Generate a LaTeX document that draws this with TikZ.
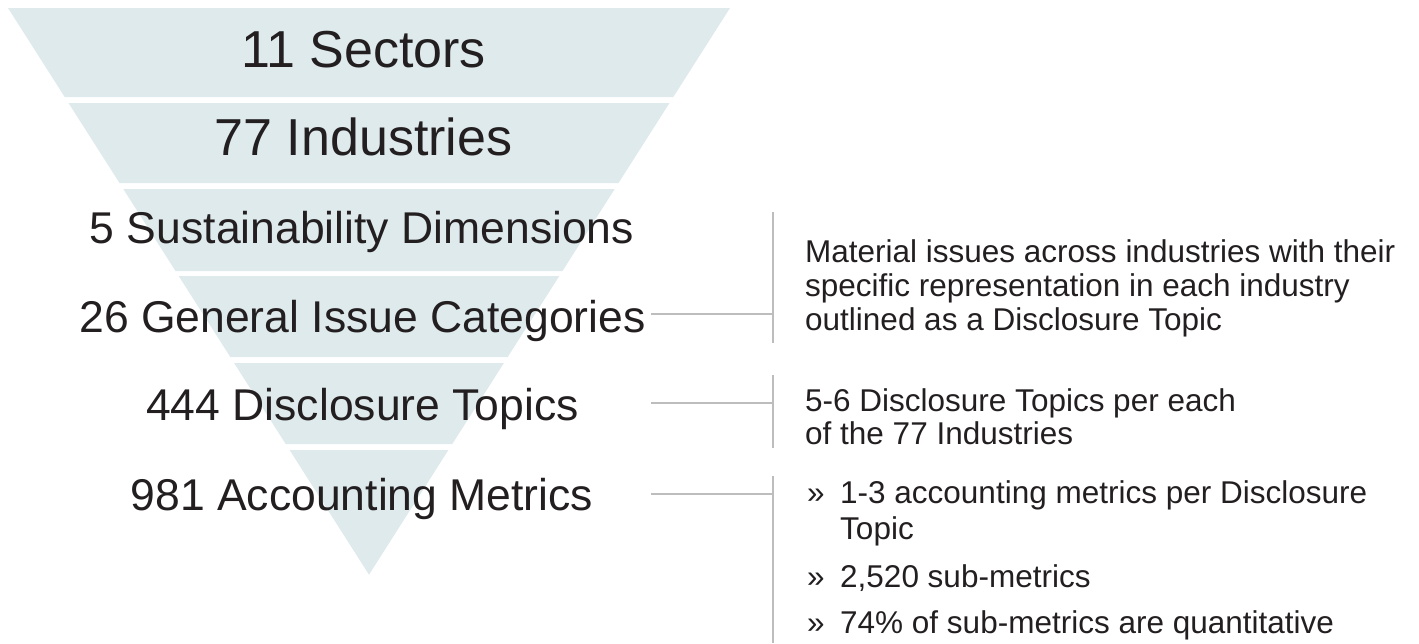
\documentclass[tikz,border=0pt]{standalone}
\usepackage{fontspec}
\setmainfont{Liberation Sans}
\definecolor{bandc}{HTML}{DFEAEC}
\definecolor{ink}{HTML}{231F20}
\definecolor{rulec}{HTML}{BDBDBD}
\begin{document}
\begin{tikzpicture}[x=1pt,y=-1pt,
  funnelband/.style={fill=bandc,draw=none},
  biglabel/.style={font=\fontsize{52}{60}\selectfont,text=ink,inner sep=0pt,anchor=base},
  midlabel/.style={font=\fontsize{44.5}{50}\selectfont,text=ink,inner sep=0pt,anchor=base},
  note/.style={font=\fontsize{31.5}{34}\selectfont,text=ink,inner sep=0pt,anchor=base west},
  conn/.style={draw=rulec,line width=1.3pt}]
\useasboundingbox (0,0) rectangle (1419,643);
% funnel bands
\fill[funnelband] (8,8) -- (730,8) -- (673.3,97) -- (64.7,97) -- cycle;
\fill[funnelband] (68.5,103) -- (669.5,103) -- (618.5,183) -- (119.5,183) -- cycle;
\fill[funnelband] (123.3,189) -- (614.7,189) -- (562.5,271) -- (175.5,271) -- cycle;
\fill[funnelband] (178.7,276) -- (559.3,276) -- (507.7,357) -- (230.3,357) -- cycle;
\fill[funnelband] (234.1,363) -- (503.9,363) -- (452.3,444) -- (285.7,444) -- cycle;
\fill[funnelband] (289.6,450) -- (448.4,450) -- (369,574.7) -- cycle;
% funnel labels
\node[biglabel] (sec) at (363.5,67) {11 Sectors};
\node[biglabel] (ind) at (363.5,155) {77 Industries};
\node[midlabel] (dim) at (362,243) {5 Sustainability Dimensions};
\node[midlabel] (cat) at (362.5,332) {26 General Issue Categories};
\node[midlabel] (top) at (362.5,420) {444 Disclosure Topics};
\node[midlabel] (met) at (362,510) {981 Accounting Metrics};
% connectors
\coordinate (h1s) at (651,314); \coordinate (h1e) at (773,314);
\coordinate (v1t) at (773,212); \coordinate (v1b) at (773,343);
\coordinate (h2s) at (651,403); \coordinate (h2e) at (773,403);
\coordinate (v2t) at (773,375); \coordinate (v2b) at (773,448);
\coordinate (h3s) at (651,494); \coordinate (h3e) at (773,494);
\coordinate (v3t) at (773,476); \coordinate (v3b) at (773,643);
\draw[conn] (h1s) -- (h1e);
\draw[conn] (v1t) -- (v1b);
\draw[conn] (h2s) -- (h2e);
\draw[conn] (v2t) -- (v2b);
\draw[conn] (h3s) -- (h3e);
\draw[conn] (v3t) -- (v3b);
% notes
\node[note] (n1a) at (805,262) {Material issues across industries with their};
\node[note] (n1b) at (805,296) {specific representation in each industry};
\node[note] (n1c) at (805,330) {outlined as a Disclosure Topic};
\node[note] (n2a) at (805,411) {5-6 Disclosure Topics per each};
\node[note] (n2b) at (805,444) {of the 77 Industries};
\node[note] (b1) at (807,503) {»};
\node[note] (n3a) at (840,503) {1-3 accounting metrics per Disclosure};
\node[note] (n3b) at (840,539) {Topic};
\node[note] (b2) at (807,587) {»};
\node[note] (n3c) at (840,587) {2,520 sub-metrics};
\node[note] (b3) at (807,633) {»};
\node[note] (n3d) at (840,633) {74\% of sub-metrics are quantitative};
\end{tikzpicture}
\end{document}
